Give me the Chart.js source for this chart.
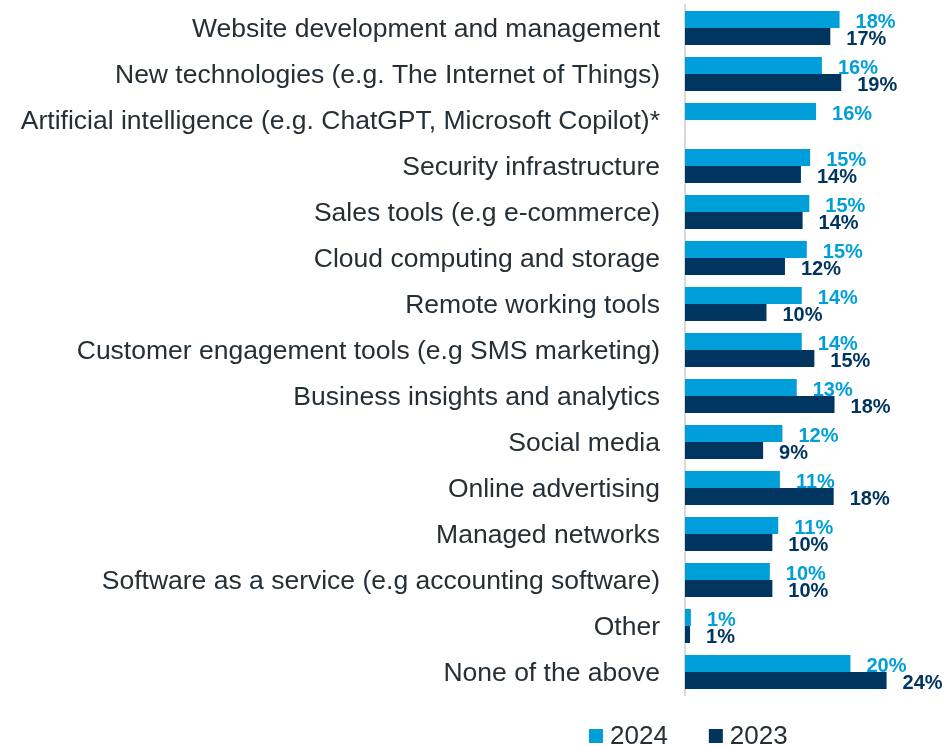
<!DOCTYPE html>
<html>
<head>
<meta charset="utf-8">
<script src="https://cdn.jsdelivr.net/npm/chart.js@4.4.1/dist/chart.umd.min.js"></script>
<style>
  html, body { margin: 0; padding: 0; background: #ffffff; }
  #wrap { position: relative; width: 950px; height: 746px; }
</style>
</head>
<body>
<div id="wrap"><canvas id="c"></canvas></div>
<script>
const categories = [
  'Website development and management',
  'New technologies (e.g. The Internet of Things)',
  'Artificial intelligence (e.g. ChatGPT, Microsoft Copilot)*',
  'Security infrastructure',
  'Sales tools (e.g e-commerce)',
  'Cloud computing and storage',
  'Remote working tools',
  'Customer engagement tools (e.g SMS marketing)',
  'Business insights and analytics',
  'Social media',
  'Online advertising',
  'Managed networks',
  'Software as a service (e.g accounting software)',
  'Other',
  'None of the above'
];
const seriesNames = ['2024', '2023'];
const values2024 = [18.4, 16.3, 15.6, 14.9, 14.8, 14.5, 13.9, 13.9, 13.3, 11.6, 11.3, 11.1, 10.1, 0.7, 19.7];
const values2023 = [17.3, 18.6, null, 13.8, 14.0, 11.9, 9.7, 15.4, 17.8, 9.3, 17.7, 10.4, 10.4, 0.6, 24.0];

const COL_2024 = '#009FDA';
const COL_2023 = '#003560';
const TEXT_COL = '#262F36';
const FONT_FAMILY = '"Liberation Sans", Arial, sans-serif';

const valueLabels = {
  id: 'valueLabels',
  afterDatasetsDraw(chart) {
    const ctx = chart.ctx;
    ctx.save();
    ctx.font = 'bold 20px ' + FONT_FAMILY;
    ctx.textAlign = 'left';
    ctx.textBaseline = 'middle';
    chart.data.datasets.forEach((ds, di) => {
      const meta = chart.getDatasetMeta(di);
      meta.data.forEach((el, i) => {
        const v = ds.data[i];
        if (v === null || v === undefined) return;
        ctx.fillStyle = ds.backgroundColor;
        ctx.fillText(Math.round(v) + '%', el.x + 16, el.y + 2.5);
      });
    });
    ctx.restore();
  }
};

const bottomLegend = {
  id: 'bottomLegend',
  afterDraw(chart) {
    const ctx = chart.ctx;
    ctx.save();
    ctx.font = '26px ' + FONT_FAMILY;
    ctx.textBaseline = 'middle';
    ctx.textAlign = 'left';
    let x = 589;
    const yc = 736;
    chart.data.datasets.forEach((ds) => {
      ctx.fillStyle = ds.backgroundColor;
      ctx.fillRect(x, yc - 7, 14, 14);
      x += 14 + 7;
      ctx.fillStyle = TEXT_COL;
      ctx.fillText(ds.label, x, yc + 1);
      x += ctx.measureText(ds.label).width + 41;
    });
    ctx.restore();
  }
};

new Chart(document.getElementById('c'), {
  type: 'bar',
  data: {
    labels: categories,
    datasets: [
      { label: seriesNames[0], data: values2024, backgroundColor: COL_2024, borderWidth: 0,
        barPercentage: 1.0, categoryPercentage: 0.74 },
      { label: seriesNames[1], data: values2023, backgroundColor: COL_2023, borderWidth: 0,
        barPercentage: 1.0, categoryPercentage: 0.74 }
    ]
  },
  options: {
    indexAxis: 'y',
    responsive: true,
    maintainAspectRatio: false,
    animation: false,
    devicePixelRatio: 1,
    layout: { padding: { top: 5, bottom: 51, left: 0, right: 13 } },
    plugins: {
      legend: { display: false },
      tooltip: { enabled: false }
    },
    scales: {
      x: {
        display: false,
        min: 0,
        max: 30,
        grid: { display: false }
      },
      y: {
        afterFit(scale) { scale.width = 685; },
        grid: {
          display: true,
          drawOnChartArea: false,
          drawTicks: true,
          tickLength: 25,
          color: 'rgba(0,0,0,0)'
        },
        border: { display: true, color: '#D9D9D9', width: 2 },
        ticks: {
          autoSkip: false,
          padding: 0,
          labelOffset: 2,
          color: TEXT_COL,
          font: { family: FONT_FAMILY, size: 26.5, lineHeight: 0.35 }
        }
      }
    }
  },
  plugins: [valueLabels, bottomLegend]
});
</script>
</body>
</html>
